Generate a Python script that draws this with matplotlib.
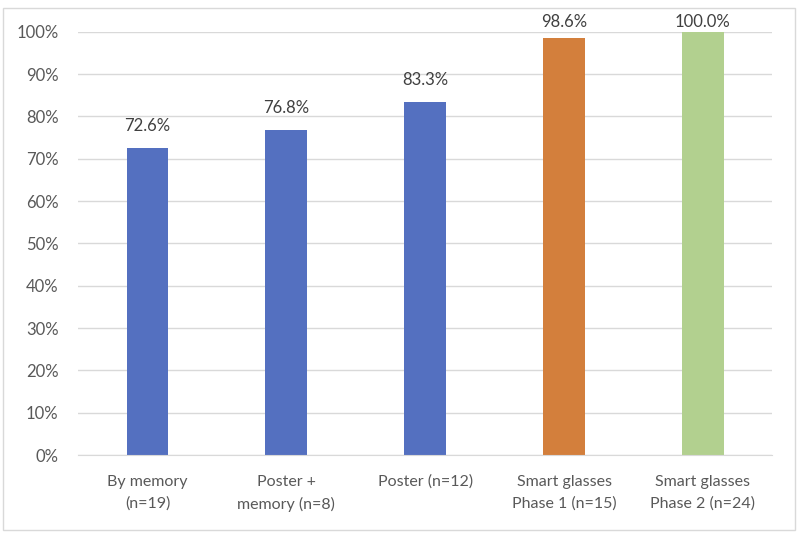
import matplotlib.pyplot as plt
from matplotlib.patches import Rectangle
from matplotlib.ticker import PercentFormatter

# data
categories = ['By memory\n(n=19)', 'Poster +\nmemory (n=8)', 'Poster (n=12)',
              'Smart glasses\nPhase 1 (n=15)', 'Smart glasses\nPhase 2 (n=24)']
values = [72.6, 76.8, 83.3, 98.6, 100.0]
colors = ['#5470c0', '#5470c0', '#5470c0', '#d37f3c', '#b2d08f']

plt.rcParams['font.family'] = ['Lato', 'DejaVu Sans']
txtcol = '#595959'

fig = plt.figure(figsize=(8, 5.38), dpi=100)
ax = fig.add_axes([0.0975, 0.154, 0.868, 0.787])

x = range(len(values))
bars = ax.bar(x, values, width=0.3, color=colors, zorder=3)
# labels sit above bars, but (like Excel) are kept inside the plot area near the top
for xi, v in zip(x, values):
    ly = min(v + 3.3, 100.3)
    ax.text(xi, ly, '%.1f%%' % v, ha='center', va='bottom', fontsize=12,
            color='#404040', zorder=4)

ax.set_ylim(0, 100)
ax.set_xlim(-0.5, len(values) - 0.5)
ax.set_yticks(range(0, 101, 10))
ax.yaxis.set_major_formatter(PercentFormatter(decimals=0))
ax.set_xticks(list(x))
ax.set_xticklabels(categories, fontsize=11.5, color=txtcol, linespacing=1.7)
ax.tick_params(axis='y', labelsize=12, labelcolor=txtcol, length=0, pad=14)
ax.tick_params(axis='x', length=0, pad=14)
ax.grid(axis='y', color='#d9d9d9', linewidth=1, zorder=0)
for s in ['top', 'right', 'left']:
    ax.spines[s].set_visible(False)
ax.spines['bottom'].set_color('#d9d9d9')
ax.spines['bottom'].set_zorder(3)

# outer chart border
fig.patches.append(Rectangle((0.004, 0.014), 0.99, 0.972, transform=fig.transFigure,
                             fill=False, edgecolor='#d9d9d9', linewidth=1))

fig.savefig('out.png', dpi=100)
